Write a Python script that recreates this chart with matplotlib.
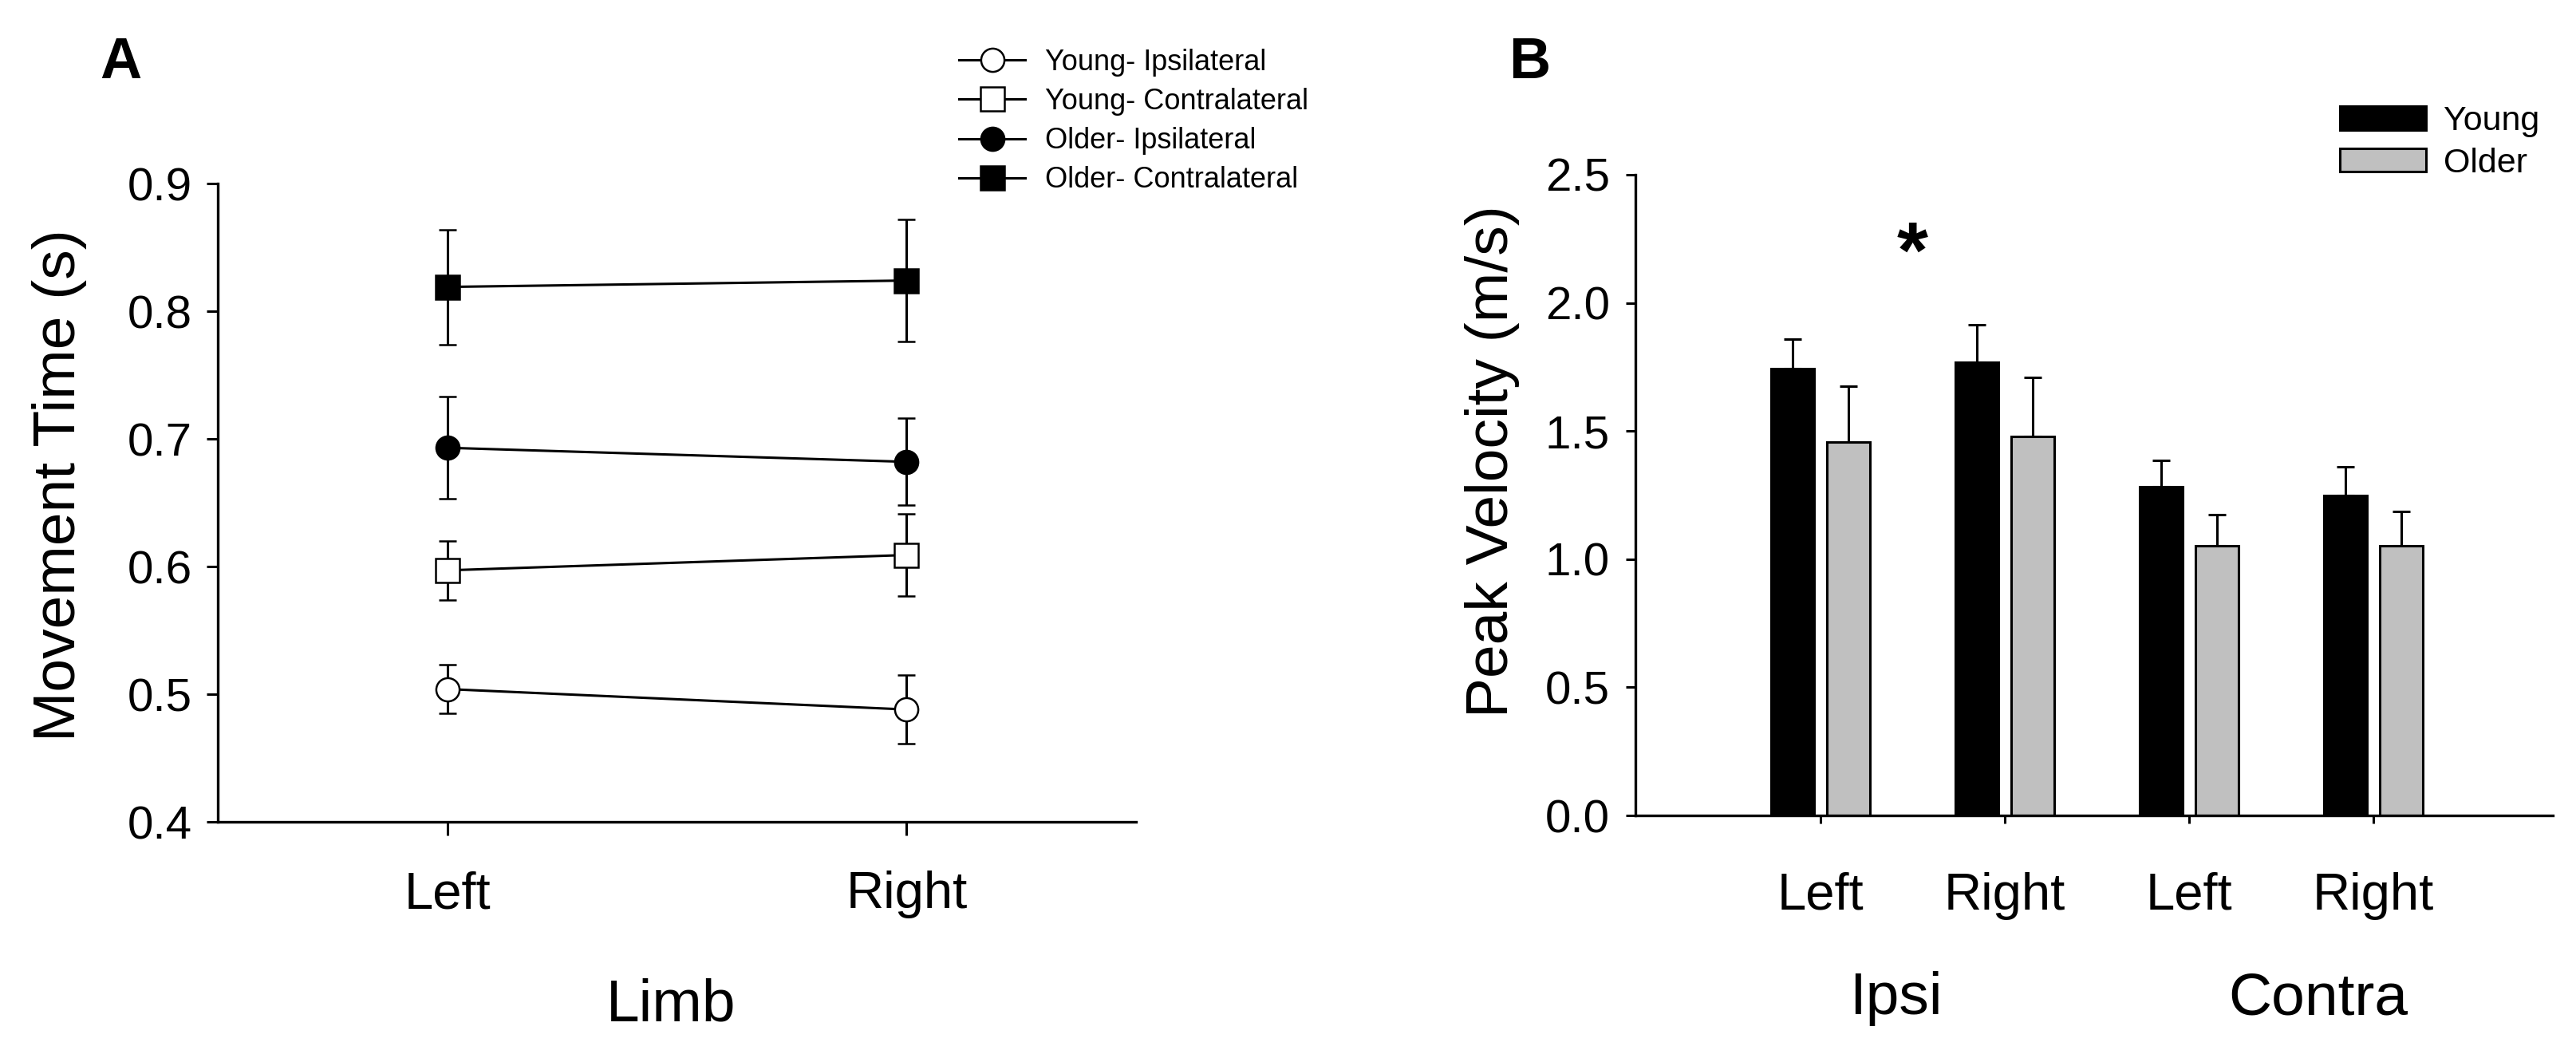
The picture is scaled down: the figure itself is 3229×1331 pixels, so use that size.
import numpy as np
import matplotlib
matplotlib.use("Agg")
import matplotlib.pyplot as plt

plt.rcParams['font.family'] = ['Liberation Sans', 'DejaVu Sans']

# Panel A: movement time (s), Left / Right limb
limbs = ["Left", "Right"]
young_ipsi = [0.504, 0.488]
young_ipsi_err = [0.019, 0.027]
young_contra = [0.597, 0.609]
young_contra_err = [0.023, 0.032]
older_ipsi = [0.693, 0.682]
older_ipsi_err = [0.040, 0.034]
older_contra = [0.819, 0.824]
older_contra_err = [0.045, 0.048]

# Panel B: peak velocity (m/s)
bar_labels = ["Left", "Right", "Left", "Right"]
young_vel = [1.743, 1.767, 1.283, 1.248]
young_vel_err = [0.117, 0.148, 0.102, 0.112]
older_vel = [1.457, 1.479, 1.052, 1.052]
older_vel_err = [0.218, 0.230, 0.122, 0.134]
groups = ["Ipsi", "Contra"]

W, H = 3229, 1331
fig = plt.figure(figsize=(W / 100, H / 100), dpi=100)


def px_box(x0, y0, x1, y1):
    # pixel box (top-left origin) -> figure fraction rect
    return [x0 / W, 1 - y1 / H, (x1 - x0) / W, (y1 - y0) / H]


axA = fig.add_axes(px_box(273, 230, 1424, 1030))
axB = fig.add_axes(px_box(2050, 219, 3200, 1022))

lw = 2.2
for ax in (axA, axB):
    ax.spines['top'].set_visible(False)
    ax.spines['right'].set_visible(False)
    ax.spines['left'].set_linewidth(2.4)
    ax.spines['bottom'].set_linewidth(2.4)

# ---- panel A ----
x = np.arange(len(limbs))
series = [
    ("Young- Ipsilateral", young_ipsi, young_ipsi_err, 'o', 'white'),
    ("Young- Contralateral", young_contra, young_contra_err, 's', 'white'),
    ("Older- Ipsilateral", older_ipsi, older_ipsi_err, 'o', 'black'),
    ("Older- Contralateral", older_contra, older_contra_err, 's', 'black'),
]
handles = []
for name, vals, err, mk, fc in series:
    cont = axA.errorbar(x, vals, yerr=err, color='black', lw=lw, elinewidth=lw,
                        capsize=8, capthick=lw, marker=mk, markersize=21,
                        markerfacecolor=fc, markeredgecolor='black',
                        markeredgewidth=1.8, label=name)
    handles.append(cont[0])

axA.set_xlim(-0.5, 1.5)
axA.set_ylim(0.4, 0.9)
axA.set_yticks([0.4, 0.5, 0.6, 0.7, 0.8, 0.9])
axA.set_yticklabels(["0.4", "0.5", "0.6", "0.7", "0.8", "0.9"])
axA.set_xticks(x)
axA.set_xticklabels(limbs)
axA.tick_params(axis='y', direction='out', length=10, width=2.2, pad=13,
                labelsize=42)
axA.tick_params(axis='x', direction='out', length=12, width=2.2, pad=32,
                labelsize=47)
axA.set_xlabel("Limb", fontsize=54)
axA.xaxis.set_label_coords(0.494, -0.244)
axA.set_ylabel("Movement Time (s)", fontsize=54)
axA.yaxis.set_label_coords(-0.1425, 0.5275)

axA.legend(handles=handles, labels=[s[0] for s in series],
           loc='upper left', bbox_to_anchor=(1202 / W, 1 - 61 / H),
           bbox_transform=fig.transFigure, frameon=False, fontsize=26,
           borderpad=0, borderaxespad=0, handlelength=2.3,
           handletextpad=0.7, labelspacing=0.39)

# ---- panel B ----
xb = np.arange(len(bar_labels))
bw = 0.234
off = 0.152
zeros = np.zeros(len(xb))
axB.bar(xb - off, young_vel, bw, color='black', edgecolor='black',
        linewidth=2.2, label="Young", zorder=2)
axB.bar(xb + off, older_vel, bw, color='#c0c0c0', edgecolor='black',
        linewidth=2.2, label="Older", zorder=2)
axB.errorbar(xb - off, young_vel, yerr=[zeros, young_vel_err], fmt='none',
             ecolor='black', elinewidth=lw, capsize=8, capthick=lw, zorder=1)
axB.errorbar(xb + off, older_vel, yerr=[zeros, older_vel_err], fmt='none',
             ecolor='black', elinewidth=lw, capsize=8, capthick=lw, zorder=1)

axB.set_xlim(-1.004, 3.974)
axB.set_ylim(0, 2.5)
axB.set_yticks([0.0, 0.5, 1.0, 1.5, 2.0, 2.5])
axB.set_yticklabels(["0.0", "0.5", "1.0", "1.5", "2.0", "2.5"])
axB.set_xticks(xb)
axB.set_xticklabels(bar_labels)
axB.tick_params(axis='y', direction='out', length=9, width=2.2, pad=14,
                labelsize=42)
axB.tick_params(axis='x', direction='out', length=7, width=2.2, pad=44,
                labelsize=47)
axB.set_ylabel("Peak Velocity (m/s)", fontsize=54)
axB.yaxis.set_label_coords(-0.126, 0.553)

tr = axB.get_xaxis_transform()
axB.text(0.41, -0.243, groups[0], transform=tr, ha='center', va='top',
         fontsize=54)
axB.text(2.70, -0.243, groups[1], transform=tr, ha='center', va='top',
         fontsize=54)
axB.text(0.5, 2.10, "*", ha='center', va='baseline', fontsize=72,
         fontweight='bold')

axB.legend(loc='upper left', bbox_to_anchor=(2933 / W, 1 - 132 / H),
           bbox_transform=fig.transFigure, frameon=False, fontsize=31,
           borderpad=0, borderaxespad=0, handlelength=2.5, handleheight=0.67,
           handletextpad=0.53, labelspacing=0.3)

fig.text(125 / W, 1 - 98 / H, "A", fontsize=52, fontweight='bold',
         ha='left', va='baseline')
fig.text(1891 / W, 1 - 98 / H, "B", fontsize=52, fontweight='bold',
         ha='left', va='baseline')

fig.savefig("out.png", dpi=100)
